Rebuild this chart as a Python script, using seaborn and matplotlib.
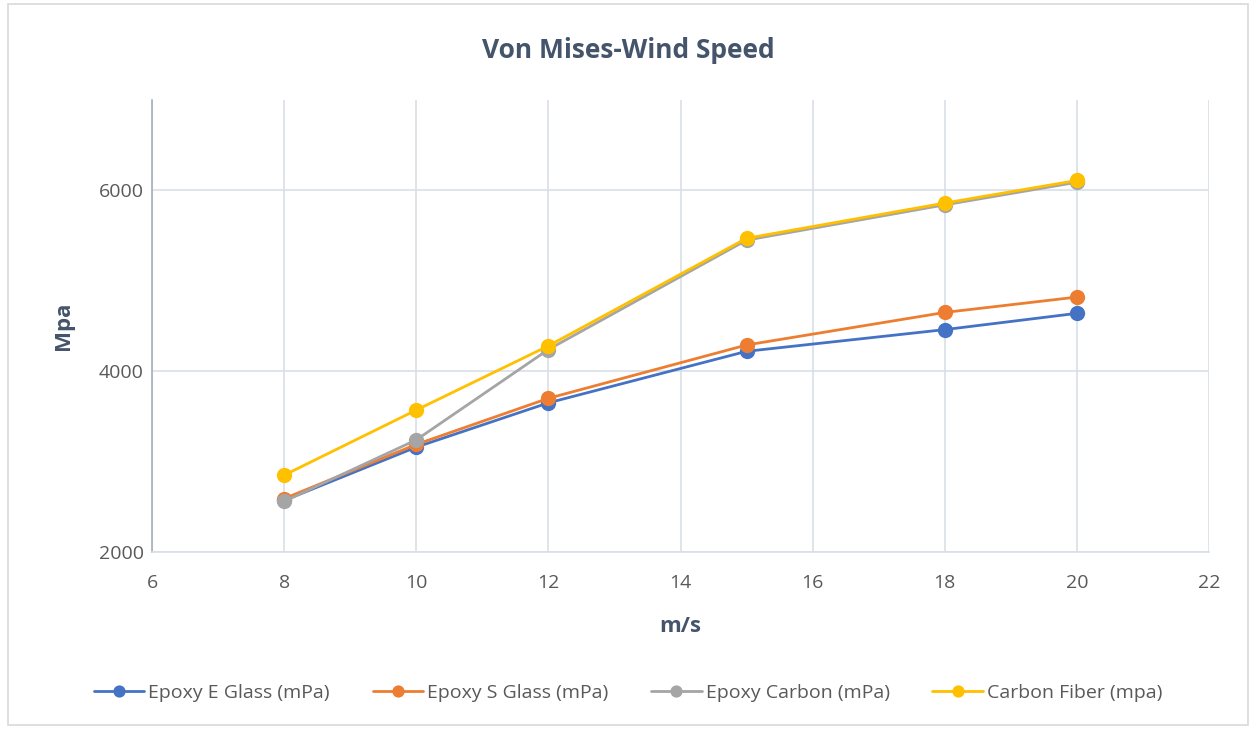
import matplotlib
matplotlib.use("Agg")
import matplotlib.pyplot as plt
import seaborn as sns
import pandas as pd
from matplotlib.patches import Rectangle

speeds = [8, 10, 12, 15, 18, 20]
e_glass = [2570, 3160, 3650, 4220, 4460, 4640]
s_glass = [2590, 3190, 3700, 4290, 4650, 4820]
epoxy_carbon = [2560, 3240, 4240, 5450, 5840, 6090]
carbon_fiber = [2850, 3570, 4280, 5470, 5860, 6110]
series_names = ["Epoxy E Glass (mPa)", "Epoxy S Glass (mPa)", "Epoxy Carbon (mPa)", "Carbon Fiber (mpa)"]
colors = ["#4472C4", "#ED7D31", "#A5A5A5", "#FFC000"]

rows = []
for name, vals in zip(series_names, [e_glass, s_glass, epoxy_carbon, carbon_fiber]):
    for x, y in zip(speeds, vals):
        rows.append({"m/s": x, "Mpa": y, "series": name})
df = pd.DataFrame(rows)

sns.set_theme(style="white")
plt.rcParams['font.family'] = ['Open Sans', 'DejaVu Sans']

fig = plt.figure(figsize=(12.56, 7.29), dpi=100)
ax = fig.add_axes([152/1256, 1-552/729, (1209-152)/1256, (552-100)/729])

sns.lineplot(data=df, x="m/s", y="Mpa", hue="series", hue_order=series_names,
             palette=colors, marker="o", markersize=11, markeredgewidth=0,
             linewidth=2, ax=ax, zorder=3)

ax.set_xlim(6, 22)
ax.set_ylim(2000, 7000)
ax.set_xticks(range(6, 23, 2))
ax.set_yticks([2000, 4000, 6000])
ax.grid(True, color="#D9DEE6", linewidth=1.2)
ax.set_axisbelow(True)
for s in ["top", "right"]:
    ax.spines[s].set_visible(False)
ax.spines["bottom"].set_color("#D9DEE6")
ax.spines["bottom"].set_linewidth(1.2)
ax.spines["left"].set_color("#A6AEBA")
ax.spines["left"].set_linewidth(1.2)
ax.tick_params(axis="x", length=0, labelsize=14, colors="#595959", pad=16)
ax.tick_params(axis="y", length=0, labelsize=14, colors="#595959", pad=6)

ax.set_xlabel("m/s", fontsize=16, fontweight="bold", color="#44546A", labelpad=17)
ax.set_ylabel("Mpa", fontsize=16, fontweight="bold", color="#44546A", labelpad=18)

fig.text(0.5, 1-50/729, "Von Mises-Wind Speed", ha="center", va="center",
         fontsize=19, fontweight="bold", color="#44546A")

handles, labels = ax.get_legend_handles_labels()
ax.legend(handles, labels, loc="center", bbox_to_anchor=(0.5, 1-693/729),
          bbox_transform=fig.transFigure, ncol=4, frameon=False,
          fontsize=14, labelcolor="#595959", handlelength=2.6,
          columnspacing=2.2, handletextpad=0.2, markerscale=0.8)

fig.patches.append(Rectangle((8/1256, 4/729), 1240/1256, 721/729, transform=fig.transFigure,
                             fill=False, edgecolor="#D9D9D9", linewidth=1.2))

fig.savefig("out.png", dpi=100)
